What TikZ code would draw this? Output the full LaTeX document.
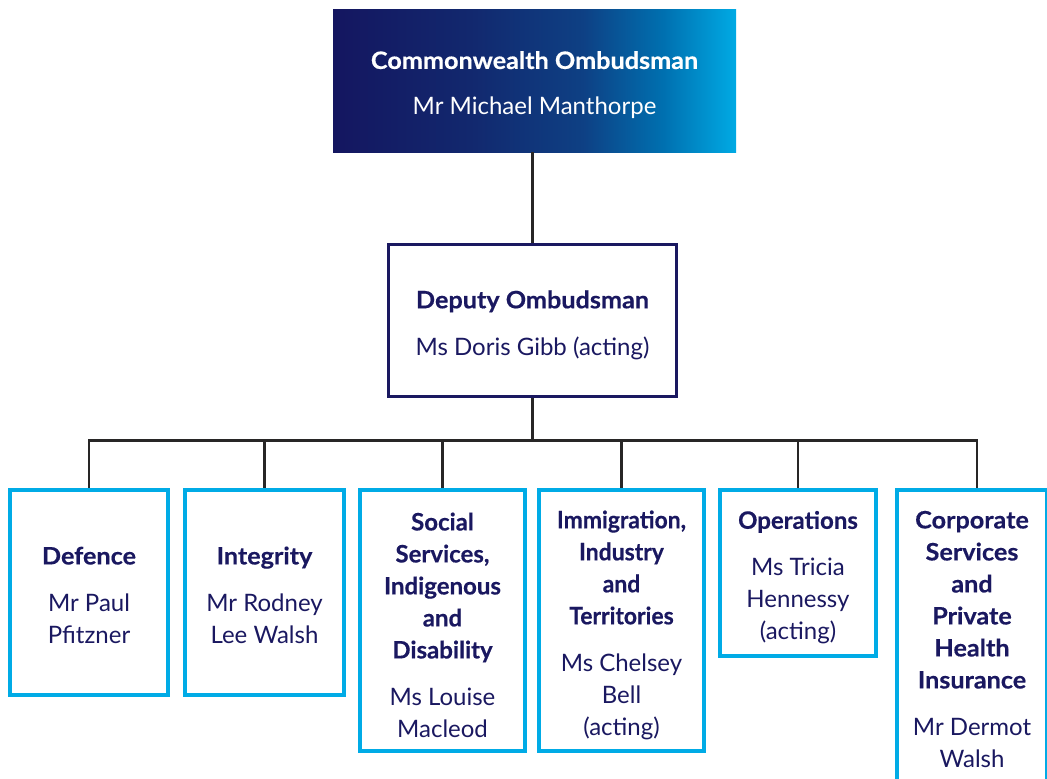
\documentclass[tikz,border=0pt]{standalone}
\usepackage{fontspec}
\setmainfont{Lato}[BoldFeatures={FakeStretch=1.05,FakeBold=0.4}]
\newfontfamily\latonarrow{Lato}[BoldFeatures={FakeStretch=0.955,FakeBold=0.4}]
\newfontfamily\latomid{Lato}[BoldFeatures={FakeStretch=1.0,FakeBold=0.4}]
\definecolor{navy}{RGB}{26,24,96}
\definecolor{cyanb}{RGB}{0,171,230}
\definecolor{linec}{RGB}{40,38,38}
\definecolor{g0}{RGB}{20,22,96}
\definecolor{g1}{RGB}{18,40,110}
\definecolor{g2}{RGB}{14,64,132}
\definecolor{g3}{RGB}{0,112,176}
\definecolor{g4}{RGB}{0,170,228}
\pgfdeclarehorizontalshading{topgrad}{100bp}{color(0bp)=(g0); color(25bp)=(g0); color(42bp)=(g1); color(56bp)=(g2); color(66bp)=(g3); color(75bp)=(g4); color(100bp)=(g4)}
\newcommand\tstrut[1][27pt]{\rule{0pt}{#1}}
\begin{document}
\begin{tikzpicture}[x=1pt,y=-1pt,
  txt/.style={font=\fontsize{24}{32}\selectfont, align=center, inner sep=0pt},
  unit/.style={txt, draw=cyanb, line width=4pt, text=navy, rectangle},
  conn/.style={draw=linec, line width=2.6pt}]
\clip (0,0) rectangle (1047,779);
% top
\node[txt, text=white, shading=topgrad, minimum width=403pt, minimum height=143pt] (top) at (534.5,80.5)
  {\tstrut\textbf{Commonwealth Ombudsman}\\[14pt]Mr Michael Manthorpe};
% deputy
\node[txt, draw=navy, line width=3.2pt, text=navy, minimum width=288pt, minimum height=152pt] (dep) at (532.5,320.5)
  {\tstrut\textbf{Deputy Ombudsman}\\[15pt]Ms Doris Gibb (acting)};
% units
\node[unit, minimum width=158pt, minimum height=205pt] (def) at (89,592.5)
  {\tstrut[23pt]\textbf{Defence}\\[15pt]Mr Paul\\Pfitzner};
\node[unit, minimum width=159pt, minimum height=205pt] (int) at (264.5,592.5)
  {\tstrut[23pt]\textbf{Integrity}\\[15pt]Mr Rodney\\Lee Walsh};
\node[unit, font=\fontsize{24}{32}\selectfont\latomid, minimum width=165pt, minimum height=261pt] (soc) at (442.5,620.5)
  {\tstrut\textbf{Social}\\\textbf{Services,}\\\textbf{Indigenous}\\\textbf{and}\\\textbf{Disability}\\[15pt]Ms Louise\\Macleod};
\node[unit, font=\fontsize{24}{32}\selectfont\latonarrow, minimum width=165pt, minimum height=261pt] (imm) at (621.5,620.5)
  {\tstrut\textbf{Immigration,}\\\textbf{Industry}\\\textbf{and}\\\textbf{Territories}\\[15pt]Ms Chelsey\\Bell\\(acting)};
\node[unit, font=\fontsize{24}{32}\selectfont\latomid, minimum width=156pt, minimum height=166pt] (ops) at (798,573)
  {\tstrut\textbf{Operations}\\[15pt]Ms Tricia\\Hennessy\\(acting)};
\node[unit, minimum width=150pt, minimum height=297pt] (corp) at (972,638.5)
  {\tstrut[19pt]\textbf{Corporate}\\\textbf{Services}\\\textbf{and}\\\textbf{Private}\\\textbf{Health}\\\textbf{Insurance}\\[15pt]Mr Dermot\\Walsh};
% connectors
\coordinate (busL) at (89,440.5);
\coordinate (busR) at (977,440.5);
\draw[conn] (dep.north) -- (dep.north |- top.south);
\draw[conn] (dep.south) -- (dep.south |- busL);
\draw[conn, line cap=rect] (busL) -- (busR);
\draw[conn] (busL) -- (def.north);
\draw[conn] (int.north |- busL) -- (int.north);
\draw[conn] (soc.north |- busL) -- (soc.north);
\draw[conn] (imm.north |- busL) -- (imm.north);
\draw[conn] (ops.north |- busL) -- (ops.north);
\draw[conn] (busR) -- (busR |- corp.north);
\end{tikzpicture}
\end{document}
